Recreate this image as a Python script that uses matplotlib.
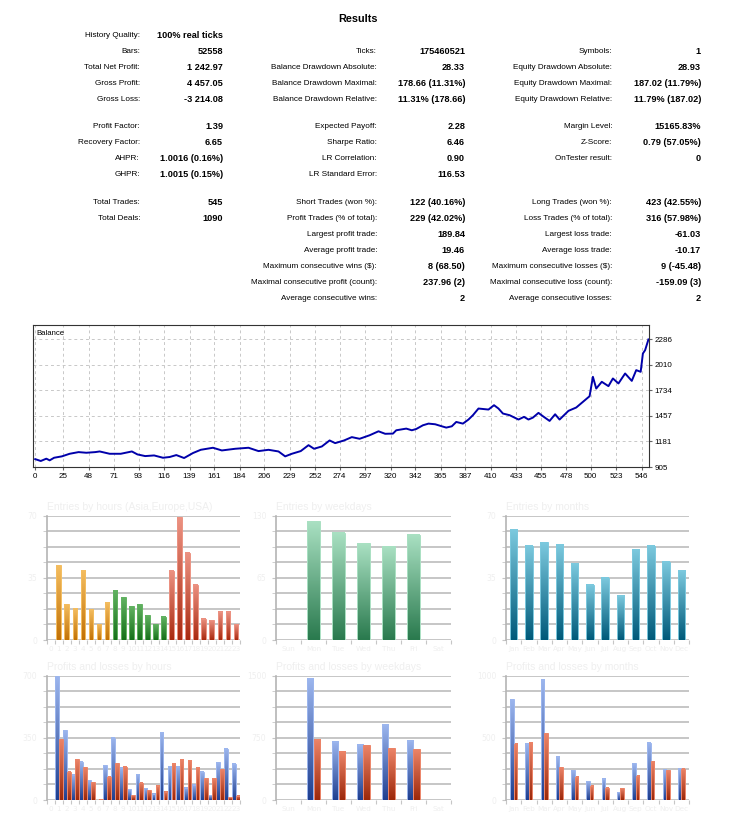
import numpy as np
import matplotlib
matplotlib.use("Agg")
import matplotlib.pyplot as plt
from matplotlib import font_manager as fm
from matplotlib.colors import LinearSegmentedColormap

# ---- data ----
col1_labels = ["History Quality:", "Bars:", "Total Net Profit:", "Gross Profit:", "Gross Loss:",
               "Profit Factor:", "Recovery Factor:", "AHPR:", "GHPR:",
               "Total Trades:", "Total Deals:", "", "", "", "", ""]
col1_values = ["100% real ticks", "52558", "1 242.97", "4 457.05", "-3 214.08",
               "1.39", "6.65", "1.0016 (0.16%)", "1.0015 (0.15%)",
               "545", "1090", "", "", "", "", ""]
col2_labels = ["", "Ticks:", "Balance Drawdown Absolute:", "Balance Drawdown Maximal:", "Balance Drawdown Relative:",
               "Expected Payoff:", "Sharpe Ratio:", "LR Correlation:", "LR Standard Error:",
               "Short Trades (won %):", "Profit Trades (% of total):", "Largest profit trade:",
               "Average profit trade:", "Maximum consecutive wins ($):", "Maximal consecutive profit (count):",
               "Average consecutive wins:"]
col2_values = ["", "175460521", "28.33", "178.66 (11.31%)", "11.31% (178.66)",
               "2.28", "6.46", "0.90", "116.53",
               "122 (40.16%)", "229 (42.02%)", "189.84", "19.46", "8 (68.50)", "237.96 (2)", "2"]
col3_labels = ["", "Symbols:", "Equity Drawdown Absolute:", "Equity Drawdown Maximal:", "Equity Drawdown Relative:",
               "Margin Level:", "Z-Score:", "OnTester result:", "",
               "Long Trades (won %):", "Loss Trades (% of total):", "Largest loss trade:",
               "Average loss trade:", "Maximum consecutive losses ($):", "Maximal consecutive loss (count):",
               "Average consecutive losses:"]
col3_values = ["", "1", "28.93", "187.02 (11.79%)", "11.79% (187.02)",
               "15165.83%", "0.79 (57.05%)", "0", "",
               "423 (42.55%)", "316 (57.98%)", "-61.03", "-10.17", "9 (-45.48)", "-159.09 (3)", "2"]

trade_no = [0, 5, 10, 13, 17, 24, 31, 39, 46, 54, 58, 67, 77, 87, 92, 99, 107, 115, 121, 127,
            134, 142, 149, 160, 168, 180, 192, 201, 210, 219, 225, 231, 239, 246, 251, 258, 265, 270,
            278, 285, 292, 301, 309, 315, 322, 325, 334, 339, 343, 349, 354, 360, 366, 370, 375, 379,
            385, 390, 394, 399, 408, 413, 417, 421, 427, 435, 440, 444, 448, 453, 457, 463, 468, 472,
            480, 487, 493, 499, 502, 505, 510, 516, 520, 525, 531, 537, 541, 545, 547, 549, 552]
balance = [990, 970, 995, 977, 1005, 1020, 1048, 1066, 1059, 1066, 1073, 1048, 1048, 1073, 1041, 1023,
           1030, 1005, 1013, 1034, 1002, 1056, 1091, 1113, 1084, 1102, 1113, 1077, 1091, 1073, 1020,
           1048, 1077, 1141, 1102, 1127, 1192, 1163, 1192, 1228, 1210, 1248, 1291, 1264, 1266, 1302,
           1320, 1302, 1316, 1356, 1374, 1367, 1345, 1331, 1345, 1392, 1374, 1418, 1465, 1537, 1526,
           1573, 1537, 1483, 1465, 1418, 1447, 1418, 1439, 1490, 1454, 1403, 1475, 1418, 1512, 1548,
           1609, 1670, 1880, 1753, 1826, 1779, 1862, 1808, 1916, 1836, 1952, 1934, 2132, 2168, 2284]
bal_xticks = [0, 25, 48, 71, 93, 116, 139, 161, 184, 206, 229, 252, 274, 297, 320, 342, 365, 387,
              410, 433, 455, 478, 500, 523, 546]
bal_yticks = [905, 1181, 1457, 1734, 2010, 2286]

hours = [str(h) for h in range(24)]
weekdays = ["Sun", "Mon", "Tue", "Wed", "Thu", "Fri", "Sat"]
months = ["Jan", "Feb", "Mar", "Apr", "May", "Jun", "Jul", "Aug", "Sep", "Oct", "Nov", "Dec"]

entries_hours = [0, 42, 20, 18, 39, 17, 9, 21, 28, 24, 19, 20, 14, 9, 13,
                 39, 69, 49, 31, 12, 11, 16, 16, 9]
entries_weekdays = [0, 124, 112, 101, 98, 110, 0]
entries_months = [62, 53, 55, 54, 43, 31, 35, 25, 51, 53, 44, 39]

profit_hours = [0, 700, 392, 141, 216, 111, 0, 195, 351, 182, 60, 146, 66, 34, 381,
                190, 186, 68, 86, 160, 28, 212, 289, 203]
loss_hours = [0, 342, 160, 229, 184, 101, 4, 130, 206, 188, 26, 96, 56, 79, 47,
              203, 229, 225, 182, 122, 122, 173, 15, 23]
profit_weekdays = [0, 1471, 701, 669, 907, 713, 0]
loss_weekdays = [0, 729, 580, 661, 625, 613, 0]
profit_months = [810, 451, 969, 348, 238, 151, 170, 62, 297, 462, 248, 254]
loss_months = [451, 464, 535, 262, 186, 113, 100, 95, 194, 313, 238, 251]

# ---- fonts ----
installed = {f.name for f in fm.fontManager.ttflist}
if "Liberation Sans Narrow" in installed:
    label_font, label_size = "Liberation Sans Narrow", 7.0
else:
    label_font, label_size = "Liberation Sans", 5.9
value_font = "Liberation Sans"

W, H = 744, 821
fig = plt.figure(figsize=(W / 100, H / 100), dpi=100)


def fx(px):
    return px / W


def fy(py):
    return 1 - py / H


# ---- results table ----
fig.text(fx(358), fy(18.5), "Results", ha="center", va="center",
         fontsize=7.8, fontweight="bold", family=value_font)

row_y = [35.7 + 15.9 * i for i in range(5)] + [126.7 + 15.9 * i for i in range(4)] \
    + [202.7 + 15.9 * i for i in range(7)]
columns = [(col1_labels, col1_values, 140, 223),
           (col2_labels, col2_values, 377, 465),
           (col3_labels, col3_values, 612, 701)]
for labels, values, lab_x, val_x in columns:
    for y, lab, val in zip(row_y, labels, values):
        if lab:
            fig.text(fx(lab_x), fy(y), lab, ha="right", va="center",
                     fontsize=label_size, family=label_font, color="#000000")
        if val:
            fig.text(fx(val_x), fy(y), val, ha="right", va="center",
                     fontsize=6.6, fontweight="bold", family=value_font, color="#000000")

# ---- balance chart ----
ax = fig.add_axes([fx(33), fy(467), fx(649 - 33), (467 - 325) / H])
ax.plot(trade_no, balance, color="#0000aa", lw=1.4, zorder=3)
ax.set_xlim(-2, 552.5)
ax.set_ylim(905, 2440)
ax.set_xticks(bal_xticks)
ax.set_yticks(bal_yticks)
ax.yaxis.tick_right()
ax.tick_params(labelsize=5.8, length=2, color="#666666", pad=2)
for lab in ax.get_xticklabels() + ax.get_yticklabels():
    lab.set_family(label_font)
ax.grid(True, color="#c8c8c8", ls=(0, (3, 3)), lw=0.7)
for s in ax.spines.values():
    s.set_color("#333333")
    s.set_linewidth(0.8)
ax.text(0.006, 0.965, "Balance", transform=ax.transAxes, ha="left", va="top",
        fontsize=5.6, family=label_font)

# ---- bar panels ----
FAINT = "#efefef"
GRID = "#c2c2c2"


def grad_bars(ax, x, h, width, top, bottom):
    cmap = LinearSegmentedColormap.from_list("g", [bottom, top])
    grad = np.linspace(0, 1, 64).reshape(-1, 1)
    bars = ax.bar(x, h, width, color="none", edgecolor=top, lw=0.7, zorder=4)
    for b in bars:
        if b.get_height() <= 0:
            continue
        x0, w, hh = b.get_x(), b.get_width(), b.get_height()
        ax.imshow(grad, extent=(x0, x0 + w, 0, hh), origin="lower", cmap=cmap,
                  aspect="auto", zorder=3, interpolation="bilinear")
    return bars


def panel(l, r, t, b, title, cats, ymax):
    ax = fig.add_axes([fx(l), fy(b), fx(r - l), (b - t) / H])
    n = len(cats)
    for k in range(9):
        ax.axhline(ymax * k / 8, color=GRID, lw=1.3, zorder=1)
    for s in ["top", "right", "bottom"]:
        ax.spines[s].set_visible(False)
    ax.spines["left"].set_color("#b4b4b4")
    ax.spines["left"].set_linewidth(1.2)
    ax.set_yticks([0, ymax / 2, ymax])
    ax.set_yticklabels(["0", f"{ymax / 2:g}", f"{ymax:g}"])
    ax.set_yticks([ymax * k / 8 for k in range(9)], minor=True)
    ax.tick_params(axis="y", which="both", length=3, color="#c6c6c6", labelsize=5.5,
                   labelcolor=FAINT, pad=4)
    ax.set_xticks(np.arange(n + 1) - 0.5)
    ax.set_xticklabels([])
    ax.set_xticks(np.arange(n), minor=True)
    ax.set_xticklabels(cats, minor=True)
    ax.tick_params(axis="x", which="major", length=3, color="#c6c6c6")
    ax.tick_params(axis="x", which="minor", length=0, labelsize=5.2, labelcolor=FAINT, pad=4)
    fig.text(fx(l), fy(t - 9), title, ha="left", va="center", fontsize=7.5,
             color=FAINT, family=value_font)
    return ax


def finish(ax, n, ymax):
    ax.set_xlim(-0.5, n - 0.5)
    ax.set_ylim(0, ymax)


# entries by hours
hx = np.arange(24)
a1 = panel(46.7, 240, 515.7, 640, "Entries by hours (Asia,Europe,USA)", hours, 70)
asia, europe, usa = hx < 8, (hx >= 8) & (hx < 15), hx >= 15
ev = np.array(entries_hours)
grad_bars(a1, hx[asia], ev[asia], 0.58, "#f4bd60", "#c27206")
grad_bars(a1, hx[europe], ev[europe], 0.58, "#62b262", "#16701a")
grad_bars(a1, hx[usa], ev[usa], 0.58, "#ec9282", "#a92a10")
finish(a1, 24, 70)

# entries by weekdays
a2 = panel(276, 450.7, 515.7, 640, "Entries by weekdays", weekdays, 130)
grad_bars(a2, np.arange(7), entries_weekdays, 0.51, "#a9e0c2", "#2a7a4e")
finish(a2, 7, 130)

# entries by months
a3 = panel(506, 689, 515.7, 640, "Entries by months", months, 70)
grad_bars(a3, np.arange(12), entries_months, 0.48, "#7cc9de", "#005a7a")
finish(a3, 12, 70)

BLUE = ("#9cb6ee", "#1f3f90")
RED = ("#ec8468", "#9c280a")

# profits and losses by hours
a4 = panel(46.7, 240, 675.7, 800, "Profits and losses by hours", hours, 700)
grad_bars(a4, hx - 0.24, profit_hours, 0.46, *BLUE)
grad_bars(a4, hx + 0.24, loss_hours, 0.46, *RED)
finish(a4, 24, 700)

# profits and losses by weekdays
wx = np.arange(7)
a5 = panel(276, 450.7, 675.7, 800, "Profits and losses by weekdays", weekdays, 1500)
grad_bars(a5, wx - 0.13, profit_weekdays, 0.25, *BLUE)
grad_bars(a5, wx + 0.13, loss_weekdays, 0.25, *RED)
finish(a5, 7, 1500)

# profits and losses by months
mx = np.arange(12)
a6 = panel(506, 689, 675.7, 800, "Profits and losses by months", months, 1000)
grad_bars(a6, mx - 0.12, profit_months, 0.23, *BLUE)
grad_bars(a6, mx + 0.12, loss_months, 0.23, *RED)
finish(a6, 12, 1000)

fig.savefig("out.png", dpi=100, facecolor="white")
